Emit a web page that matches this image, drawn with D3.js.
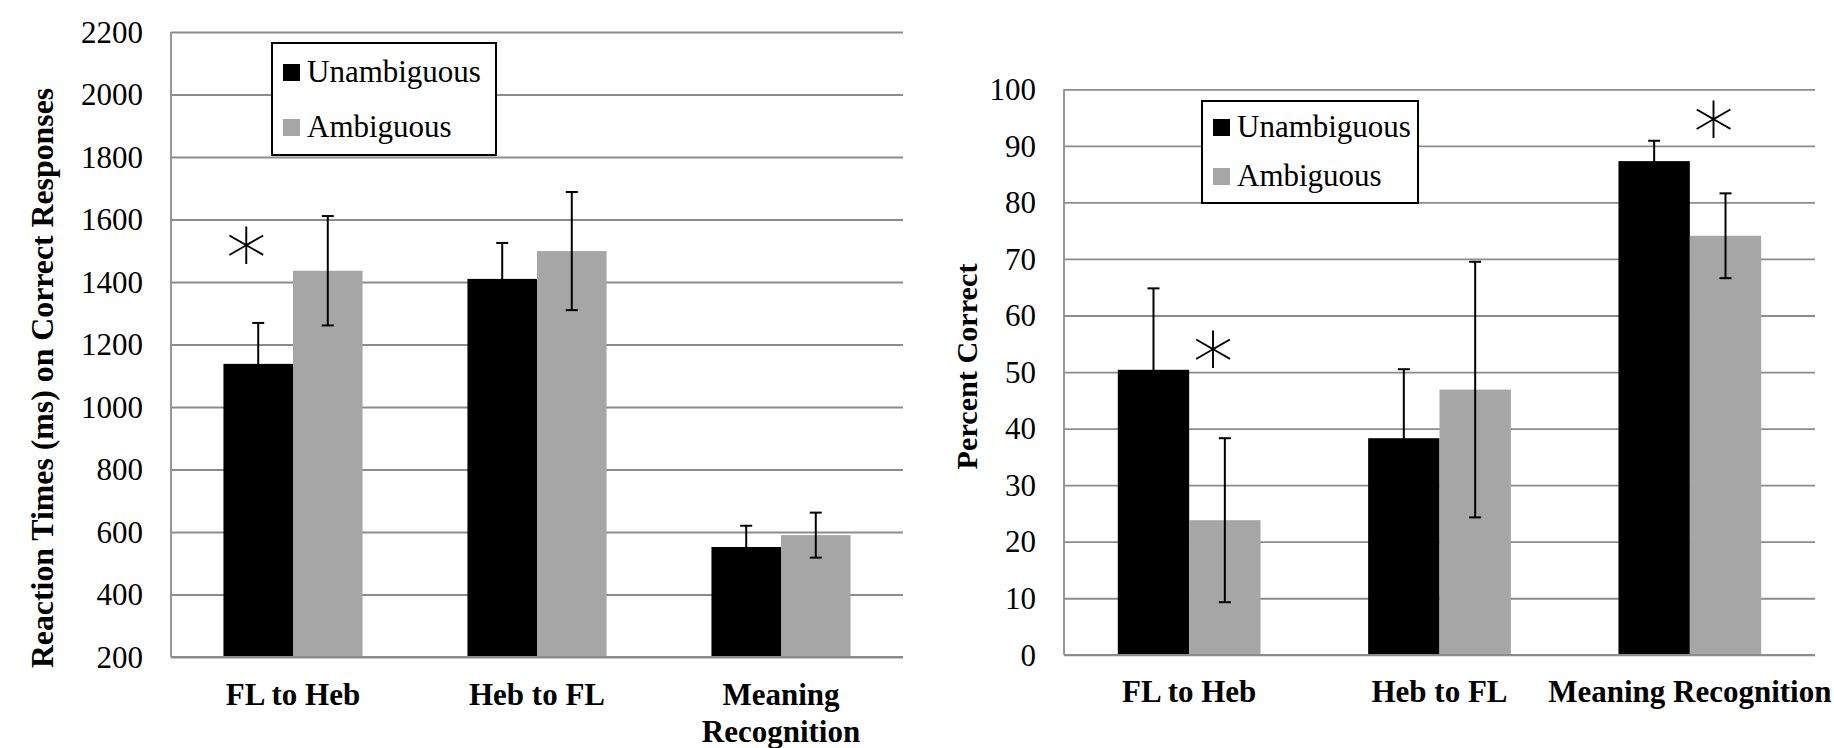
<!DOCTYPE html>
<html lang="en">
<head>
<meta charset="utf-8"/>
<title>Reaction times and percent correct</title>
<script src="https://cdnjs.cloudflare.com/ajax/libs/d3/7.8.5/d3.min.js"></script>
<style type="text/css">
  body { margin: 0; background: white; }
  svg text { font-family: "Liberation Serif", "Times New Roman", serif; fill: black; }
  .grid line { stroke: #8c8c8c; stroke-width: 1.8px; }
  .grid path { display: none; }
  .ytick { font-size: 31px; }
  .cat { font-size: 31px; font-weight: bold; }
  .ytitle { font-size: 31.5px; font-weight: bold; }
  .legend text { font-size: 31px; }
  svg text.star { font-family: "DejaVu Sans ExtraLight", "DejaVu Sans Light", "DejaVu Sans", sans-serif; font-weight: 200; font-size: 82px; }
</style>
</head>
<body>
<div id="chart"></div>
<script>
// categories and series
var categories = ["FL to Heb", "Heb to FL", "Meaning Recognition"];
var series = ["Unambiguous", "Ambiguous"];
var seriesColors = ["#000000", "#a6a6a6"];

// left panel: reaction times (ms)
var rtUnamb = [1138, 1410, 552];
var rtUnambErr = [131, 115, 68];
var rtAmb = [1436, 1499, 590];
var rtAmbErr = [175, 189, 72];
var rtTicks = [200, 400, 600, 800, 1000, 1200, 1400, 1600, 1800, 2000, 2200];
var rtCatLabels = [["FL to Heb"], ["Heb to FL"], ["Meaning", "Recognition"]];
var rtStars = [{cat: "FL to Heb", series: "Unambiguous", value: 1528}];

// right panel: percent correct
var pcUnamb = [50.4, 38.3, 87.3];
var pcUnambErr = [14.4, 12.2, 3.6];
var pcAmb = [23.8, 46.9, 74.1];
var pcAmbErr = [14.5, 22.6, 7.5];
var pcTicks = [0, 10, 20, 30, 40, 50, 60, 70, 80, 90, 100];
var pcCatLabels = [["FL to Heb"], ["Heb to FL"], ["Meaning Recognition"]];
var pcStars = [
  {cat: "FL to Heb", series: "Ambiguous", value: 54.5},
  {cat: "Meaning Recognition", series: "Ambiguous", value: 95.2}
];

var svg = d3.select("#chart").append("svg")
  .attr("width", 1834)
  .attr("height", 748);

function panel(opt) {
  var g = svg.append("g");
  var x0 = d3.scaleBand().domain(categories).range([opt.left, opt.right]).padding(0);
  var x1 = d3.scaleBand().domain(series).range([0, x0.bandwidth()])
    .paddingInner(0).paddingOuter(0.754);
  var y = d3.scaleLinear().domain(opt.domain).range([opt.bottom, opt.top]);
  var w = opt.right - opt.left;

  // gridlines + tick labels
  var ax = g.append("g").attr("class", "grid")
    .attr("transform", "translate(" + opt.left + ",0)")
    .call(d3.axisLeft(y).tickValues(opt.ticks).tickSize(-w).tickPadding(28).tickFormat(d3.format("d")));
  ax.selectAll("text").attr("class", "ytick").attr("dy", "0.33em");
  ax.attr("font-size", null).attr("font-family", null);

  // left axis line
  g.append("line")
    .attr("x1", opt.left).attr("x2", opt.left)
    .attr("y1", y(opt.domain[1])).attr("y2", y(opt.domain[0]))
    .attr("stroke", "#8c8c8c").attr("stroke-width", 1.8);

  var rows = [];
  categories.forEach(function(c, i) {
    rows.push({cat: c, s: series[0], v: opt.unamb[i], e: opt.unambErr[i], col: seriesColors[0]});
    rows.push({cat: c, s: series[1], v: opt.amb[i], e: opt.ambErr[i], col: seriesColors[1]});
  });

  g.selectAll("rect.bar").data(rows).enter().append("rect")
    .attr("class", "bar")
    .attr("x", function(d) { return x0(d.cat) + x1(d.s); })
    .attr("width", x1.bandwidth())
    .attr("y", function(d) { return y(d.v); })
    .attr("height", function(d) { return y(opt.domain[0]) - y(d.v); })
    .attr("fill", function(d) { return d.col; });

  // bottom axis line drawn over bars
  g.append("line")
    .attr("x1", opt.left).attr("x2", opt.right)
    .attr("y1", y(opt.domain[0])).attr("y2", y(opt.domain[0]))
    .attr("stroke", "#8c8c8c").attr("stroke-width", 1.8);

  // error bars
  var eb = g.selectAll("g.err").data(rows).enter().append("g").attr("class", "err");
  function cx(d) { return x0(d.cat) + x1(d.s) + x1.bandwidth() / 2; }
  eb.append("line")
    .attr("x1", cx).attr("x2", cx)
    .attr("y1", function(d) { return y(d.v + d.e); })
    .attr("y2", function(d) { return y(d.v - d.e); })
    .attr("stroke", "black").attr("stroke-width", 2);
  [1, -1].forEach(function(sg) {
    eb.append("line")
      .attr("x1", function(d) { return cx(d) - 6; })
      .attr("x2", function(d) { return cx(d) + 6; })
      .attr("y1", function(d) { return y(d.v + sg * d.e); })
      .attr("y2", function(d) { return y(d.v + sg * d.e); })
      .attr("stroke", "black").attr("stroke-width", 2);
  });

  // significance stars
  g.selectAll("text.star").data(opt.stars).enter().append("text")
    .attr("class", "star")
    .attr("x", function(d) { return x0(d.cat) + x1(d.series) + x1.bandwidth() / 2 - 12; })
    .attr("y", function(d) { return y(d.value); })
    .attr("text-anchor", "middle")
    .attr("dominant-baseline", "central")
    .text("\u2217");

  // category labels
  var cl = g.selectAll("text.cat").data(categories).enter().append("text")
    .attr("class", "cat")
    .attr("text-anchor", "middle")
    .attr("x", function(d) { return x0(d) + x0.bandwidth() / 2; })
    .attr("y", opt.catY);
  cl.each(function(d, i) {
    var t = d3.select(this);
    opt.catLabels[i].forEach(function(line, j) {
      t.append("tspan").attr("x", x0(d) + x0.bandwidth() / 2)
        .attr("dy", j === 0 ? 0 : 37).text(line);
    });
  });

  // y title
  g.append("text").attr("class", "ytitle")
    .attr("text-anchor", "middle")
    .attr("transform", "translate(" + opt.titleX + "," + opt.titleY + ") rotate(-90)")
    .style("font-size", opt.titleSize + "px")
    .text(opt.title);

  // legend
  var lg = g.append("g").attr("class", "legend");
  lg.append("rect")
    .attr("x", opt.leg.x).attr("y", opt.leg.y)
    .attr("width", opt.leg.w).attr("height", opt.leg.h)
    .attr("fill", "white").attr("stroke", "black").attr("stroke-width", 2);
  series.forEach(function(s, i) {
    var by = opt.leg.y + opt.leg.first + i * opt.leg.step;
    lg.append("rect")
      .attr("x", opt.leg.x + 11).attr("y", by - 18)
      .attr("width", 17).attr("height", 17)
      .attr("fill", seriesColors[i]);
    lg.append("text")
      .attr("x", opt.leg.x + 35).attr("y", by)
      .text(s);
  });
}

panel({
  left: 171, right: 903, top: 32, bottom: 657,
  domain: [200, 2200], ticks: rtTicks,
  unamb: rtUnamb, unambErr: rtUnambErr, amb: rtAmb, ambErr: rtAmbErr,
  stars: rtStars, catLabels: rtCatLabels, catY: 705,
  title: "Reaction Times (ms) on Correct Responses", titleX: 53, titleY: 378, titleSize: 31.8,
  leg: {x: 272, y: 43, w: 224, h: 112, first: 39, step: 55}
});

panel({
  left: 1064, right: 1815, top: 89.3, bottom: 654.8,
  domain: [0, 100], ticks: pcTicks,
  unamb: pcUnamb, unambErr: pcUnambErr, amb: pcAmb, ambErr: pcAmbErr,
  stars: pcStars, catLabels: pcCatLabels, catY: 702,
  title: "Percent Correct", titleX: 977, titleY: 366.5, titleSize: 30.2,
  leg: {x: 1202, y: 101, w: 216, h: 102, first: 36, step: 49}
});
</script>
</body>
</html>
